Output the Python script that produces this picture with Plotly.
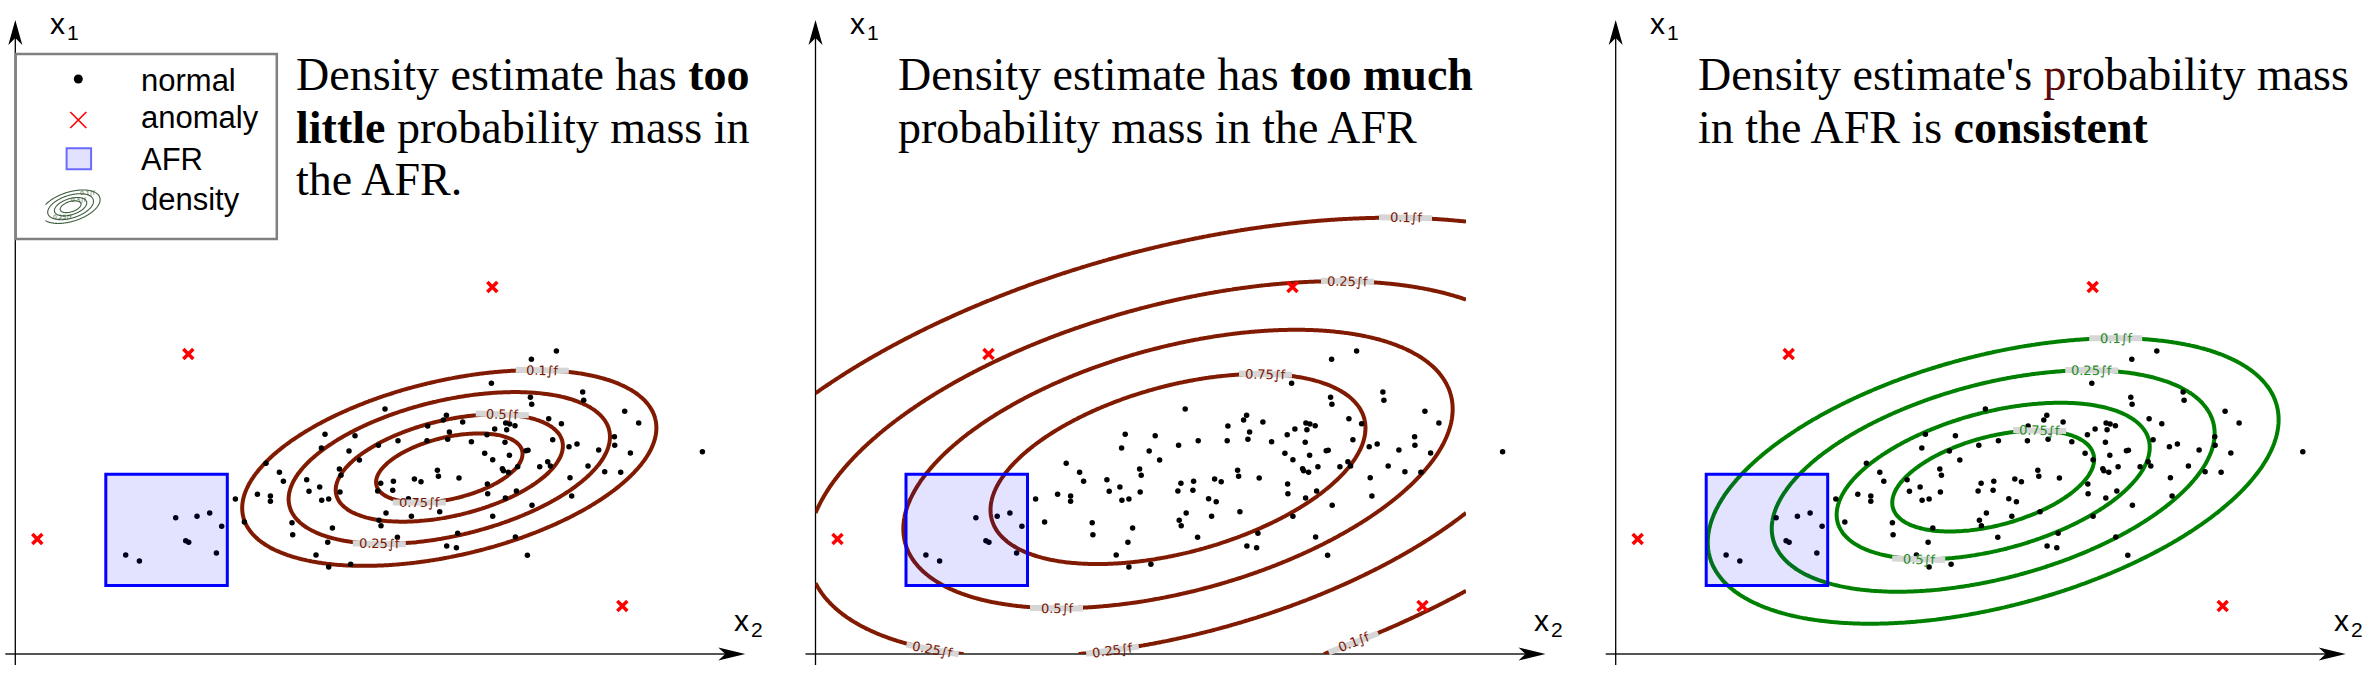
import numpy as np
import plotly.graph_objects as go

# normal samples (x2, x1) -- the same sample is shown in all three panels
normal_x2 = [160.4, 181.7, 194.4, 206.4, 170.4, 173.4, 201.1, 110.4, 124.1,
             220.1, 229.1, 242.1, 250.7, 255.1, 255.1, 264.1, 268.1, 276.7, 277.4, 291.4,
             293.7, 300.7, 304.4, 306.4, 313.4, 312.4, 313.4, 317.1, 324.1, 325.7,
             324.7, 333.7, 335.4, 339.7, 344.1, 309.7, 306.1, 369.7, 363.1, 365.4,
             362.4, 370.7, 363.7, 365.7,
             516.1, 541.1, 476.1, 515.1, 516.4, 567.4, 568.4, 609.4, 623.4, 431.1,
             428.1, 447.4, 412.4, 434.1, 382.7, 411.7, 432.4, 456.1, 471.7, 479.4,
             490.4, 494.4, 499.7, 491.4, 489.7, 533.4, 546.1, 537.4, 553.7, 561.7,
             583.4, 599.1, 599.4, 615.1, 687.1, 469.4, 477.4, 494.1, 510.7, 512.7,
             532.4, 535.1, 524.4, 502.4, 487.1, 488.1, 493.1, 572.7, 589.4, 605.4,
             422.1, 423.1, 443.7, 378.1, 399.1, 405.7, 377.4, 472.1, 472.4, 501.1,
             490.1, 554.7, 556.4, 516.7, 393.1, 400.7, 424.4, 396.1, 477.4, 382.1,
             442.4, 431.4, 441.1, 500.1, 512.1]
normal_x1 = [136.3, 137.7, 141.0, 127.7, 113.3, 111.7, 101.0, 99.0, 93.0,
             155.0, 132.0, 159.7, 190.7, 158.0, 152.7, 181.7, 172.7, 131.3, 119.3, 174.3,
             162.7, 99.0, 167.0, 153.7, 155.0, 111.7, 87.0, 126.0, 185.0, 178.7,
             162.0, 203.0, 89.7, 218.3, 194.0, 219.7, 206.0, 245.0, 208.7, 170.7,
             163.0, 141.0, 133.7, 128.3,
             294.7, 303.0, 270.7, 256.7, 249.7, 262.0, 253.7, 242.7, 231.0, 238.7,
             234.0, 232.0, 228.0, 222.0, 213.3, 213.3, 214.7, 212.3, 219.3, 225.0,
             231.0, 230.0, 228.3, 224.3, 211.7, 235.3, 230.3, 214.3, 207.3, 210.0,
             204.0, 217.3, 208.7, 201.0, 202.3, 200.7, 194.3, 198.7, 203.3, 203.7,
             192.3, 188.0, 187.3, 187.3, 185.3, 183.3, 181.7, 188.0, 182.3, 181.7,
             183.7, 177.7, 176.0, 172.7, 175.0, 172.3, 163.7, 170.0, 160.3, 163.0,
             156.0, 176.3, 158.0, 148.7, 155.3, 152.3, 142.3, 137.7, 137.7, 116.7,
             120.7, 108.0, 106.3, 117.0, 98.7]

anomaly_x2 = [173, 477, 22, 607]
anomaly_x1 = [300, 367, 115, 48]

# anomaly feature region (AFR)
afr_x2 = [90.5, 212.0]
afr_x1 = [68.5, 179.7]

# density estimate of each panel: centre, std devs, correlation, contour radii
dens_centre = [(434.0, 186.0), (362.5, 185.0), (377.5, 173.0)]
dens_sd = [(96.5, 45.6), (247.0, 125.2), (133.0, 66.5)]
dens_rho = [0.41, 0.43, 0.43]
dens_radius = [[2.146, 1.665, 1.177, 0.759],
               [2.007, 1.500, 1.112, 0.759],
               [2.146, 1.665, 1.177, 0.759]]
level_names = ["0.1∫f", "0.25∫f", "0.5∫f", "0.75∫f"]

titles = [["Density estimate has <b>too</b>", "<b>little</b> probability mass in", "the AFR."],
          ["Density estimate has <b>too much</b>", "probability mass in the AFR"],
          ["Density estimate's <span style='color:#5c0a0a'>p</span>robability mass",
           "in the AFR is <b>consistent</b>"]]

legend_names = ["normal", "anomaly", "AFR", "density"]

# where the contour labels sit: (level index, x2, branch)
label_spots = [[(0, 527, 1), (2, 487, 1), (3, 404, -1), (1, 364, -1)],
               [(0, 590, 1), (1, 532, 1), (3, 450, 1), (2, 241, -1),
                (1, 117, -1), (1, 297, -1), (0, 538, -1)],
               [(0, 500, 1), (1, 476, 1), (3, 424, 1), (2, 303, -1)]]
grid_x_end = [745, 650.5, 745]

line_col = ["#801a00", "#801a00", "#008000"]
label_col = ["#7a1600", "#7a1600", "#1f8a1f"]

origins = [15.3, 815.5, 1615.7]
W, H = 2376, 700
XR = [-15, 745]
YR = [-46, 654]

SANS = "Liberation Sans, Arial, sans-serif"
SERIF = "Liberation Serif, Times New Roman, serif"


def mahal(X, Y, c, sd, rho):
    u = (X - c[0]) / sd[0]
    v = (Y - c[1]) / sd[1]
    return np.sqrt((u * u - 2 * rho * u * v + v * v) / (1 - rho * rho))


def on_ellipse(x, d, c, sd, rho, branch):
    u = (x - c[0]) / sd[0]
    q = (1 - rho * rho) * (d * d - u * u)
    if q <= 0:
        return None
    v = rho * u + branch * np.sqrt(q)
    slope = sd[1] / sd[0] * (rho * v - u) / (v - rho * u)
    return c[1] + sd[1] * v, np.arctan(slope)


def band_path(x, y, a, length=53, thick=6):
    # grey strip lying along the contour under a label (1 unit = 1 px)
    dx, dy = np.cos(a) * length / 2, np.sin(a) * length / 2
    nx, ny = -np.sin(a) * thick / 2, np.cos(a) * thick / 2
    pts = [(x - dx - nx, y - dy - ny), (x + dx - nx, y + dy - ny),
           (x + dx + nx, y + dy + ny), (x - dx + nx, y - dy + ny)]
    return "M" + " L".join(f"{px:.2f},{py:.2f}" for px, py in pts) + " Z"


def axis_label(xr, yr, x, y, sub):
    # "x" plus a smaller subscript digit, as two plain texts
    return [dict(xref=xr, yref=yr, x=x, y=y, text="x", showarrow=False,
                 xanchor="left", yanchor="middle",
                 font=dict(family=SANS, size=30, color="black")),
            dict(xref=xr, yref=yr, x=x + 17, y=y - 9.5, text=sub, showarrow=False,
                 xanchor="left", yanchor="middle",
                 font=dict(family=SANS, size=21, color="black"))]


fig = go.Figure()
shapes = []
annotations = []

for p in range(3):
    ax = "" if p == 0 else str(p + 1)
    xr, yr = "x" + ax, "y" + ax

    # density contours
    gx = np.linspace(0, grid_x_end[p], 300)
    gy = np.linspace(0, 645, 300)
    GX, GY = np.meshgrid(gx, gy)
    D = mahal(GX, GY, dens_centre[p], dens_sd[p], dens_rho[p]).astype(np.float32)
    for r in dens_radius[p]:
        fig.add_trace(go.Contour(
            x=gx, y=gy, z=D, autocontour=False,
            contours=dict(start=r, end=r, size=1, coloring="none"),
            line=dict(color=line_col[p], width=4, smoothing=1),
            showscale=False, hoverinfo="skip", xaxis=xr, yaxis=yr))

    fig.add_trace(go.Scatter(
        x=normal_x2, y=normal_x1, mode="markers",
        marker=dict(size=5.5, color="black"), hoverinfo="skip",
        xaxis=xr, yaxis=yr))
    fig.add_trace(go.Scatter(
        x=anomaly_x2, y=anomaly_x1, mode="markers",
        marker=dict(symbol="x-thin", size=10, line=dict(width=3.5, color="#ff0000")),
        hoverinfo="skip", xaxis=xr, yaxis=yr))

    # axes drawn as arrows
    shapes.append(dict(type="line", xref=xr, yref=yr, x0=-10, y0=0, x1=716, y1=0,
                       line=dict(color="#555555", width=2), layer="below"))
    shapes.append(dict(type="path", xref=xr, yref=yr,
                       path="M730,0 L703,-6.5 L710,0 L703,6.5 Z",
                       fillcolor="black", line=dict(width=0), layer="below"))
    shapes.append(dict(type="line", xref=xr, yref=yr, x0=0, y0=-11, x1=0, y1=616,
                       line=dict(color="black", width=1.3), layer="below"))
    shapes.append(dict(type="path", xref=xr, yref=yr,
                       path="M0,634 L-7,609 L0,616 L7,609 Z",
                       fillcolor="black", line=dict(width=0), layer="below"))
    annotations += axis_label(xr, yr, 32.5, 631, "1")
    annotations += axis_label(xr, yr, 716.5, 33.7, "2")

    # AFR box
    shapes.append(dict(type="rect", xref=xr, yref=yr, x0=afr_x2[0], x1=afr_x2[1],
                       y0=afr_x1[0], y1=afr_x1[1], line=dict(color="#0000ff", width=3),
                       fillcolor="rgba(0,0,255,0.11)", layer="above"))

    # contour labels: grey band over the line, text on top
    for li, lx, br in label_spots[p]:
        res = on_ellipse(lx, dens_radius[p][li], dens_centre[p], dens_sd[p], dens_rho[p], br)
        if res is None:
            continue
        ly, a = res
        shapes.append(dict(type="path", xref=xr, yref=yr, path=band_path(lx, ly, a),
                           fillcolor="#d6d6d6", line=dict(width=0), layer="above"))
        annotations.append(dict(xref=xr, yref=yr, x=lx, y=ly, text=level_names[li],
                                showarrow=False, textangle=-np.degrees(a),
                                font=dict(family="DejaVu Sans", size=13, color=label_col[p])))

    # panel caption, one annotation per line
    tx = 278.4 if p == 0 else 80.6
    for k, line in enumerate(titles[p]):
        annotations.append(dict(xref=xr, yref=yr, x=tx, y=579.5 - 52.5 * k, text=line,
                                showarrow=False, xanchor="left", yanchor="middle",
                                font=dict(family=SERIF, size=46, color="black")))

# hand-drawn legend in the first panel
shapes.append(dict(type="rect", xref="x", yref="y", x0=0.4, x1=261.5, y0=415, y1=600,
                   line=dict(color="#808080", width=2.5), fillcolor="white", layer="below"))
shapes.append(dict(type="rect", xref="x", yref="y", x0=51.3, x1=75.8, y0=484.7, y1=505.7,
                   line=dict(color="#6a6aff", width=2), fillcolor="#e2e2ff", layer="below"))
fig.add_trace(go.Scatter(x=[63], y=[575], mode="markers",
                         marker=dict(size=9, color="black"), hoverinfo="skip"))
fig.add_trace(go.Scatter(x=[63], y=[534], mode="markers",
                         marker=dict(symbol="x-thin", size=16, line=dict(width=1.6, color="#ff0000")),
                         hoverinfo="skip"))
icon_x = np.linspace(30, 88, 120)
icon_y = np.linspace(426, 468, 90)
IX, IY = np.meshgrid(icon_x, icon_y)
ID = mahal(IX, IY, (55.3, 447.3), (13.75, 7.8), 0.42).astype(np.float32)
for r in dens_radius[0]:
    fig.add_trace(go.Contour(
        x=icon_x, y=icon_y, z=ID, autocontour=False,
        contours=dict(start=r, end=r, size=1, coloring="none"),
        line=dict(color="#3f5f3f", width=1.1, smoothing=1),
        showscale=False, hoverinfo="skip"))
for t, (ix, iy) in zip(["0.1∫f", "0.5∫f", "0.25∫f"], [(72.3, 461.5), (64, 454), (47.3, 436.7)]):
    annotations.append(dict(xref="x", yref="y", x=ix, y=iy, text=t, showarrow=False,
                            font=dict(family="DejaVu Sans", size=6, color="#3f5f3f")))
for k, name in enumerate(legend_names):
    annotations.append(dict(xref="x", yref="y", x=123.8, y=[573.7, 536.4, 494.7, 454.7][k],
                            text=name, showarrow=False, xanchor="left", yanchor="middle",
                            font=dict(family=SANS, size=31, color="black")))

layout = dict(width=W, height=H, margin=dict(l=0, r=0, t=0, b=0),
              paper_bgcolor="white", plot_bgcolor="white", showlegend=False,
              shapes=shapes, annotations=annotations)
for p in range(3):
    ax = "" if p == 0 else str(p + 1)
    d0 = (origins[p] + XR[0]) / W
    d1 = (origins[p] + XR[1]) / W
    layout["xaxis" + ax] = dict(domain=[d0, d1], range=XR, visible=False, fixedrange=True,
                                anchor="y" + ax)
    layout["yaxis" + ax] = dict(domain=[0, 1], range=YR, visible=False, fixedrange=True,
                                anchor="x" + ax)
fig.update_layout(**layout)

fig.write_html("out.html", config={"displayModeBar": False},
               post_script="document.body.style.margin='0px';")
